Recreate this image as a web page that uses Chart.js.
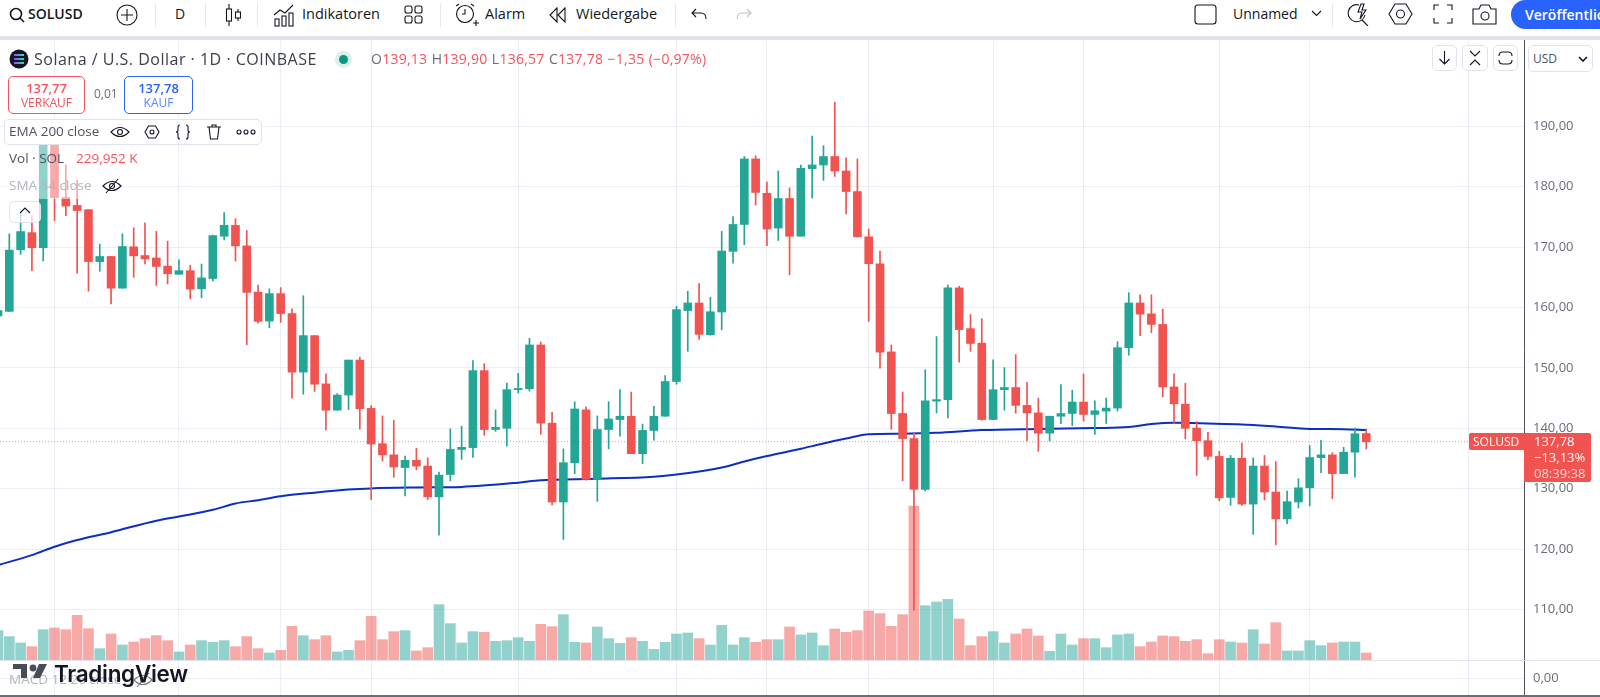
<!DOCTYPE html>
<html>
<head>
<meta charset="utf-8">
<script src="https://cdn.jsdelivr.net/npm/chart.js@4"></script>
<style>
html,body{margin:0;padding:0;background:#fff;overflow:hidden;width:1600px;height:697px;font-family:"Open Sans",sans-serif;color:#131722}
canvas{position:absolute;left:0;top:0}
.t{position:absolute;white-space:nowrap;line-height:1}
.c{transform:translateY(-50%)}
.sep{position:absolute;top:3px;width:1px;height:24px;background:#e7e9ef}
svg{position:absolute;fill:none;stroke:#131722;stroke-width:1.1}
.box{position:absolute;box-sizing:border-box;background:#fff;border:1px solid #e0e3eb;border-radius:5px}
</style>
</head>
<body>
<canvas id="chart" width="1600" height="697"></canvas>

<!-- toolbar -->
<div style="position:absolute;left:0;top:0;width:1600px;height:36px;background:#fff"></div>
<div style="position:absolute;left:0;top:36px;width:1600px;height:4px;background:#e0e3eb"></div>
<svg style="left:8px;top:6px" width="18" height="18"><circle cx="8" cy="8" r="5.5" stroke-width="1.6"/><path d="M12 12l4 4" stroke-width="1.6"/></svg>
<div class="t c" style="left:28px;top:14px;font-size:14px;font-weight:600">SOLUSD</div>
<svg style="left:116px;top:4px" width="22" height="22"><circle cx="11" cy="11" r="10"/><path d="M11 5v12M5 11h12"/></svg>
<div class="sep" style="left:155px"></div>
<div class="t c" style="left:175px;top:14px;font-size:14px">D</div>
<div class="sep" style="left:205px"></div>
<svg style="left:224px;top:2px" width="20" height="26"><path d="M5 2v22M14 7v12"/><rect x="2.5" y="7" width="5" height="12" fill="#fff"/><rect x="11.5" y="10" width="5" height="6" fill="#fff"/></svg>
<div class="sep" style="left:257px"></div>
<svg style="left:273px;top:3px" width="22" height="24"><path d="M1 12l6-5 5 3 8-8"/><rect x="2" y="16" width="4" height="7"/><rect x="9" y="13" width="4" height="10"/><rect x="16" y="10" width="4" height="13"/></svg>
<div class="t c" style="left:302px;top:14px;font-size:14.5px">Indikatoren</div>
<svg style="left:404px;top:5px" width="20" height="20"><rect x="1" y="1" width="7" height="7" rx="2"/><rect x="11" y="1" width="7" height="7" rx="2"/><rect x="1" y="11" width="7" height="7" rx="2"/><rect x="11" y="11" width="7" height="7" rx="2"/></svg>
<div class="sep" style="left:440px"></div>
<svg style="left:454px;top:2px" width="26" height="26"><circle cx="11" cy="12" r="8.5"/><path d="M11 7v5h-3M2 4l3-2M17 2l3 2M19 21h6M22 18v6"/></svg>
<div class="t c" style="left:485px;top:14px;font-size:14.5px">Alarm</div>
<svg style="left:549px;top:7px" width="20" height="16"><path d="M8 1L1 8l7 7zM16 1L9 8l7 7z"/></svg>
<div class="t c" style="left:576px;top:14px;font-size:14.5px">Wiedergabe</div>
<div class="sep" style="left:675px"></div>
<svg style="left:691px;top:7px" width="17" height="15"><path d="M5 2L1 6l4 4M1 6h9q5 0 5 6"/></svg>
<svg style="left:735px;top:7px;stroke:#c1c4cd" width="17" height="15"><path d="M12 2l4 4-4 4M16 6H7q-5 0-5 6"/></svg>
<svg style="left:1194px;top:4px" width="23" height="21"><rect x="1" y="1" width="21" height="19" rx="3"/></svg>
<div class="t c" style="left:1233px;top:14px;font-size:14px">Unnamed</div>
<svg style="left:1311px;top:10px" width="11" height="8"><path d="M1 1l4.5 4.5L10 1"/></svg>
<div class="sep" style="left:1332px"></div>
<svg style="left:1347px;top:2px" width="23" height="24"><path d="M12 3A8.5 8.5 0 1 0 18 13M15 18l6 6M14 2l-3 8h4l-2 7 6-9h-4l2-6z"/></svg>
<svg style="left:1388px;top:3px" width="25" height="22"><path d="M7 1h11l6 10-6 10H7L1 11z"/><circle cx="12.5" cy="11" r="4"/></svg>
<svg style="left:1433px;top:4px" width="20" height="20"><path d="M1 6V1h5M14 1h5v5M19 14v5h-5M6 19H1v-5"/></svg>
<svg style="left:1472px;top:3px" width="25" height="22"><path d="M1 6h6l2-4h8l2 4h5v15H1z"/><circle cx="13" cy="13" r="4"/></svg>
<div style="position:absolute;left:1511px;top:0;width:89px;height:29px;background:#2962ff;border-radius:15px 0 0 15px;overflow:hidden">
  <div class="t c" style="left:14px;top:15px;font-size:14px;font-weight:600;color:#fff">Veröffentlichen</div>
</div>

<!-- legend -->
<svg style="left:9px;top:49px;stroke:none" width="20" height="20"><defs><linearGradient id="sol" x1="0" x2="1"><stop offset="0" stop-color="#9945ff"/><stop offset="1" stop-color="#14f195"/></linearGradient></defs><circle cx="10" cy="10" r="9.5" fill="#131722"/><path d="M5 6h10M5 10h10M5 14h10" stroke="url(#sol)" stroke-width="1.8"/></svg>
<div class="t c" style="left:34px;top:59px;font-size:16px;color:#3d404a;letter-spacing:.5px">Solana / U.S. Dollar · 1D · COINBASE</div>
<div style="position:absolute;left:335px;top:51px;width:17px;height:17px;border-radius:50%;background:#dcefeb"></div>
<div style="position:absolute;left:339px;top:55px;width:9px;height:9px;border-radius:50%;background:#089981"></div>
<div class="t c" style="left:371px;top:59px;font-size:14px;color:#f7525f;letter-spacing:.25px;word-spacing:.5px"><span style="color:#6a6d78">O</span>139,13 <span style="color:#6a6d78">H</span>139,90 <span style="color:#6a6d78">L</span>136,57 <span style="color:#6a6d78">C</span>137,78 −1,35 (−0,97%)</div>
<div class="box" style="left:8px;top:76px;width:77px;height:38px;border-color:#f7525f">
  <div class="t" style="left:0;width:75px;text-align:center;top:5px;font-size:13px;font-weight:600;color:#f7525f">137,77</div>
  <div class="t" style="left:0;width:75px;text-align:center;top:20px;font-size:12px;color:#f7525f">VERKAUF</div>
</div>
<div class="t c" style="left:94px;top:94px;font-size:12px;color:#6a6d78">0,01</div>
<div class="box" style="left:124px;top:76px;width:69px;height:38px;border-color:#2962ff">
  <div class="t" style="left:0;width:67px;text-align:center;top:5px;font-size:13px;font-weight:600;color:#2962ff">137,78</div>
  <div class="t" style="left:0;width:67px;text-align:center;top:20px;font-size:12px;color:#5b85ff">KAUF</div>
</div>
<!-- legend rows wash out the candles behind them -->
<div style="position:absolute;left:0;top:145px;width:128px;height:54px;background:rgba(255,255,255,.5)"></div>
<div class="box" style="left:4px;top:119px;width:258px;height:26px">
  <div class="t c" style="left:4px;top:12px;font-size:13.5px;color:#50535e">EMA 200 close</div>
</div>
<svg style="left:110px;top:124px" width="20" height="16"><path d="M1 8q9-9 18 0q-9 9-18 0z"/><circle cx="10" cy="8" r="2.5"/></svg>
<svg style="left:144px;top:125px" width="16" height="14"><path d="M4.5 1h7L15 7l-3.5 6h-7L1 7z"/><circle cx="8" cy="7" r="2"/></svg>
<svg style="left:175px;top:124px" width="16" height="16"><path d="M5 1q-2 0-2 2v3q0 2-2 2q2 0 2 2v3q0 2 2 2M11 1q2 0 2 2v3q0 2 2 2q-2 0-2 2v3q0 2-2 2"/></svg>
<svg style="left:206px;top:124px" width="16" height="16"><path d="M1 3h14M3 3l1.5 12h7L13 3M6 3V1h4v2"/></svg>
<svg style="left:236px;top:129px" width="20" height="6"><circle cx="3" cy="3" r="2"/><circle cx="10" cy="3" r="2"/><circle cx="17" cy="3" r="2"/></svg>
<div class="t c" style="left:9px;top:159px;font-size:13.5px;color:#50535e">Vol · SOL</div>
<div class="t c" style="left:76px;top:159px;font-size:13.5px;color:#f7525f">229,952 K</div>
<div class="t c" style="left:9px;top:186px;font-size:13.5px;color:#b2b5be">SMA 34 close</div>
<svg style="left:102px;top:178px" width="20" height="16"><path d="M1 8q9-9 18 0q-9 9-18 0z"/><circle cx="10" cy="8" r="2.5"/><path d="M4 15L16 1"/></svg>
<div class="box" style="left:9px;top:201px;width:32px;height:22px;background:rgba(255,255,255,.75)"></div>
<svg style="left:19px;top:207px" width="12" height="8"><path d="M1 6l5-5 5 5"/></svg>

<!-- pane buttons -->
<div class="box" style="left:1432px;top:45px;width:25px;height:26px"></div>
<svg style="left:1437px;top:50px" width="15" height="16"><path d="M7.5 1v13M2.5 9l5 5 5-5"/></svg>
<div class="box" style="left:1462px;top:45px;width:26px;height:26px"></div>
<svg style="left:1468px;top:49px" width="14" height="18"><path d="M2 2l5 5 5-5M2 16l5-5 5 5"/></svg>
<div class="box" style="left:1493px;top:45px;width:25px;height:26px"></div>
<svg style="left:1498px;top:51px" width="15" height="14"><path d="M1 5q0-4 4-4h5q4 0 4 4M1 9q0 4 4 4h5q4 0 4-4"/></svg>
<div class="box" style="left:1528px;top:45px;width:65px;height:27px">
  <div class="t c" style="left:4px;top:13px;font-size:12px;color:#50535e">USD</div>
</div>
<svg style="left:1578px;top:56px;stroke-width:1.6" width="10" height="6"><path d="M1 1l4 4 4-4"/></svg>

<!-- last price tag -->
<div style="position:absolute;left:1469px;top:433px;width:55px;height:17px;background:#f05350;border-radius:2px 0 0 2px">
  <div class="t c" style="left:4px;top:9px;font-size:12px;color:#fff">SOLUSD</div>
</div>
<div style="position:absolute;left:1524px;top:433px;width:67px;height:49px;background:#f05350;border-radius:0 2px 2px 0;color:#fff;font-size:13px">
  <div class="t c" style="left:10px;top:8px">137,78</div>
  <div class="t c" style="left:10px;top:24px">−13,13%</div>
  <div class="t c" style="left:10px;top:40px;color:#ffd9d7">08:39:38</div>
</div>

<!-- pane separator and frame -->
<div style="position:absolute;left:0;top:660px;width:1600px;height:1px;background:#e0e3eb"></div>
<div style="position:absolute;left:0;top:695px;width:1600px;height:2px;background:#6a6d78"></div>

<!-- watermark and collapsed MACD legend -->
<div class="t c" style="left:9px;top:680px;font-size:13.5px;color:#b2b5be">MACD 12 26 close</div>
<svg style="left:133px;top:672px;stroke:#777" width="20" height="16"><path d="M1 8q9-9 18 0q-9 9-18 0z"/><circle cx="10" cy="8" r="2.5"/><path d="M4 15L16 1"/></svg>
<svg style="left:13px;top:664px;stroke:none" width="34" height="18"><path d="M0 0h14v14H8V5H0z" fill="#4a4d57"/><circle cx="20" cy="4" r="3.4" fill="#4a4d57"/><path d="M26 0h8l-7 14h-7z" fill="#4a4d57"/></svg>
<div class="t c" style="left:54px;top:674px;font-size:22.5px;font-weight:600;font-family:Inter,sans-serif;color:#131722;letter-spacing:-.3px">TradingView</div>

<script>
// one entry per daily bar
var opens = [
  158.6,159.36,169.55,172.4,169.9,187.5,178.2,176.9,176.2,167.6,
  168.45,163.2,170.05,168.6,168.2,166.85,165.5,166.1,163.1,164.8,
  171.8,173.6,170.2,162.55,157.75,162.3,159,149.3,155.35,147.35,
  143,145.5,151.3,143.3,137.45,135.6,133.5,134.7,133.75,128.65,
  132.35,136.5,136.8,149.55,139.8,140,146.4,146.55,153.8,140.85,
  127.8,134.3,143.05,131.55,139.8,141.45,142,135.8,139.65,142,
  147.75,159.5,160.75,155.5,159.25,169.3,173.75,184.6,178.9,173.15,
  178.05,171.8,183,183.6,185,182.6,179.2,171.7,167.25,152.65,
  142.45,138.3,129.9,144.5,144.75,163.25,156.5,154.1,141.45,146.4,
  146.75,143.8,142.55,139.2,142,142.45,144.35,142.3,142.85,143.35,
  153.35,160.75,158.95,157.2,146.85,144,140.05,137.95,135.35,128.55,
  135.05,127.45,133.75,129.45,125,127.8,130.15,135.15,135.6,132.5,
  136.05,139.13
];
var highs = [
  160,172.2,175.6,175.3,189,189.5,183.6,181.1,176.2,170.5,
  168.45,172.2,173.2,174,172.6,171,167.9,167,167.2,172,
  175.7,174.7,172.75,163.7,163.1,163.3,159.8,161.95,155.35,149,
  145.75,151.3,151.8,143.75,142.05,141.3,135.4,136.7,135.1,132.75,
  139.9,140.35,151.2,150.7,143.05,147.5,149.1,154.9,154.3,142.65,
  136.6,144.4,143.55,142.05,144.4,146.4,146,140.7,143.65,148.75,
  160.2,162.7,163.95,161.7,172.6,175.05,185,185.1,180.75,182.6,
  179.8,183.6,188.4,186.8,194,184.8,184.6,173,169.35,153.8,
  146,139.35,149.7,155.2,163.7,163.5,158.85,158.15,151.35,150.05,
  152.2,147.6,145,142,147.25,146.3,149,144.55,145,154.35,
  162.45,162.1,162.1,159.75,149,147.45,141.1,139.35,136.2,135.5,
  137.55,135.1,135.5,134.5,129.6,131.65,137.15,138,135.95,136.85,
  140.05,139.9
];
var lows = [
  158.2,159.3,168.8,166.1,167.7,174.4,175.2,165.7,162.7,166,
  160.6,163.2,165,167.2,163.65,163.9,165.5,161.45,161.6,164.4,
  171.2,167.7,153.85,157.4,156.65,157.55,145,145.65,146.1,139.75,
  143,143.1,139.85,128.2,134.6,131.9,128.8,133.1,128.2,122.3,
  131.3,134.85,135.2,138.85,139.5,137.05,145.85,146.15,139,127.3,
  121.6,132.5,131.4,127.9,136.6,138.7,135.8,134.15,138.05,142,
  147.3,152.75,154.7,155.4,156.3,167.35,170.4,176.95,170.25,171.1,
  165.4,171.8,178.15,181.05,181.7,175.5,171.7,157.7,149.95,139.85,
  131.3,109.9,129.6,142.55,141.7,150.95,152.75,141.35,141.45,143,
  142.5,137.9,136.2,137.9,140.75,140.45,141.2,139,140.8,142.85,
  152.1,155.35,155.85,145.2,140.8,138.25,132.2,134.75,128,127.25,
  127.25,122.45,128.15,120.7,124.2,126.8,127.15,132.65,128.35,132.5,
  131.9,136.57
];
var closes = [
  159.5,169.5,172.58,169.9,188,178.2,176.8,176.05,167.6,168.45,
  163.2,170.1,168.55,168.05,166.8,165.6,166.1,163.05,164.9,171.9,
  173.6,170.2,162.5,157.7,162.3,159,149.3,155.35,147.3,143,
  145.5,151.3,143.25,137.4,135.6,133.6,134.7,133.75,128.65,132.25,
  136.5,136.85,149.55,139.8,140.15,146.4,146.6,153.8,140.85,127.8,
  134.3,143.2,131.55,139.8,141.55,142,135.8,139.65,142,147.75,
  159.65,160.75,155.55,159.3,169.35,173.75,184.6,179.05,173,178.05,
  171.8,183.05,183.6,185,182.6,179.2,171.7,167.25,152.6,142.45,
  138.3,129.9,144.55,144.75,163.25,156.35,154.05,141.45,146.4,146.75,
  143.8,142.55,139.2,142,142.45,144.35,142.3,142.9,143.35,153.35,
  160.75,158.9,157.2,146.85,144.05,140,137.95,135.35,128.5,135.05,
  127.45,133.75,129.45,125,127.85,130.15,135.15,135.6,132.5,136.05,
  139.1,137.78
];
// volume in K SOL
var volumes = [
  964,767,558,438,996,1051,996,1467,1029,372,
  854,493,591,701,799,635,263,493,635,580,
  635,438,767,372,230,318,1106,799,668,799,
  263,318,635,1434,668,931,964,296,405,1818,
  1194,558,931,909,613,635,734,613,1172,1095,
  1489,580,558,1084,701,548,734,613,350,580,
  854,887,701,493,1139,493,734,580,668,668,
  1084,821,887,471,1018,909,964,1610,1522,1106,
  1489,5059,1785,1905,1993,1347,471,767,931,558,
  854,1018,788,285,854,493,701,701,405,821,
  854,438,591,788,767,613,668,208,668,591,
  558,996,526,1226,296,296,635,471,558,591,
  591,230
];
var emaBars = [0,3,5,7,10,14,16,19,21,23,25,28,31,33,37,41,46,48,53,58,60,64,66,68,71,73,75,77,80,83,87,92,97,100,102,104,107,110,113,116,119,121];
var emaValues = [117.35,119,120.4,121.5,122.8,124.7,125.4,126.5,127.55,128.1,128.75,129.35,129.85,130.05,130.2,130.3,131,131.4,131.65,132,132.35,133.5,134.5,135.4,136.6,137.5,138.3,139,139.1,139.25,139.7,139.9,140.05,140.2,140.7,140.9,140.8,140.65,140.3,139.9,139.85,139.7];
var lastPrice = 137.78;
var priceTicks = [110,120,130,140,150,160,170,180,190];
var macdTicks = [0];
// bars where the time axis puts its vertical grid lines
var gridBars = [5,16,25,33,46,60,68,77,88,96,108,116,130];

var UP = '#23a696', DOWN = '#f05350';
var UP_VOL = 'rgba(38,166,154,.5)', DOWN_VOL = 'rgba(240,83,80,.5)';
var GRID = '#e9eff5';
var xMin = 0.177, xMax = 134.95;

function isUp(i) { return closes[i] >= opens[i]; }
function comma(v) { return v.toFixed(2).replace('.', ','); }
// the panes must fill the plot exactly, so drop the room chart.js keeps for half a label
function fixAxis(s) { s.width = 76; s.paddingTop = 0; s.paddingBottom = 0; }
var tickFont = { family: '"Open Sans", sans-serif', size: 13 };

var chart = new Chart(document.getElementById('chart'), {
  type: 'bar',
  data: {
    datasets: [
      {
        label: 'Candles', order: 1, yAxisID: 'y', barThickness: 8,
        data: opens.map(function(o, i) { return { x: i, y: [o, closes[i]] }; }),
        backgroundColor: opens.map(function(o, i) { return isUp(i) ? UP : DOWN; })
      },
      {
        label: 'Wicks', order: 2, yAxisID: 'y', barThickness: 1,
        data: highs.map(function(h, i) { return { x: i, y: [lows[i], h] }; }),
        backgroundColor: opens.map(function(o, i) { return isUp(i) ? UP : DOWN; })
      },
      {
        label: 'EMA 200', type: 'line', order: 3, yAxisID: 'y',
        data: emaBars.map(function(b, i) { return { x: b, y: emaValues[i] }; }),
        borderColor: '#0b2fc4', borderWidth: 2, pointRadius: 0, cubicInterpolationMode: 'monotone'
      },
      {
        label: 'Volume', order: 4, yAxisID: 'vol', barThickness: 10,
        data: volumes.map(function(v, i) { return { x: i, y: v }; }),
        backgroundColor: opens.map(function(o, i) { return isUp(i) ? UP_VOL : DOWN_VOL; })
      },
      {
        label: 'Last', type: 'line', order: 5, yAxisID: 'y',
        data: [{ x: xMin, y: lastPrice }, { x: xMax, y: lastPrice }],
        borderColor: 'rgba(240,83,80,.65)', borderWidth: 1, borderDash: [1, 2], pointRadius: 0
      }
    ]
  },
  options: {
    responsive: false, animation: false, events: [],
    layout: { padding: { top: 40, bottom: 1, left: 0, right: 0 } },
    datasets: { bar: { grouped: false, borderWidth: 0 } },
    plugins: { legend: { display: false }, tooltip: { enabled: false } },
    scales: {
      x: {
        type: 'linear', min: xMin, max: xMax, offset: false,
        afterBuildTicks: function(s) { s.ticks = gridBars.map(function(b) { return { value: b }; }); },
        afterFit: function(s) { s.height = 0; s.paddingLeft = 0; s.paddingRight = 0; },
        ticks: { display: false },
        grid: { color: GRID, drawTicks: false, offset: false },
        border: { display: false }
      },
      y: {
        position: 'right', stack: 'panes', stackWeight: 620, min: 101.64, max: 204.29,
        afterBuildTicks: function(s) { s.ticks = priceTicks.map(function(v) { return { value: v }; }); },
        afterFit: fixAxis,
        ticks: { color: '#6a6d78', font: tickFont, padding: 9, callback: comma },
        grid: { color: GRID, drawTicks: false },
        border: { display: true, color: '#50535e', width: 1 }
      },
      macd: {
        position: 'right', stack: 'panes', stackWeight: 36, min: -1, max: 1,
        afterBuildTicks: function(s) { s.ticks = macdTicks.map(function(v) { return { value: v }; }); },
        afterFit: fixAxis,
        ticks: { color: '#6a6d78', font: tickFont, padding: 9, callback: comma },
        grid: { color: GRID, drawTicks: false },
        border: { display: true, color: '#50535e', width: 1 }
      },
      // hidden, so it spans the whole plot height: the -1183 puts its zero on the pane floor
      vol: { display: false, min: -1183, max: 20367 }
    }
  }
});
</script>
</body>
</html>
